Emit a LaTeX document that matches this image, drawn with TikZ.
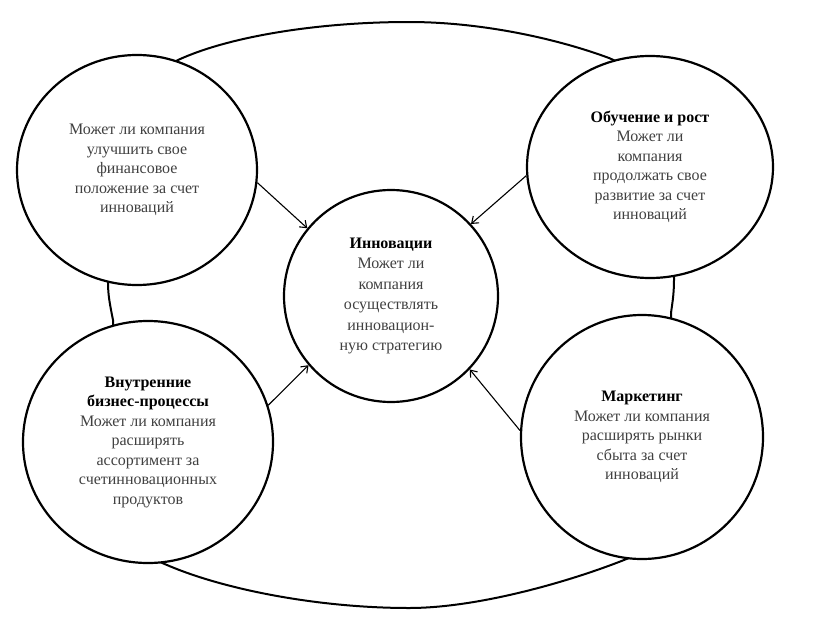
\documentclass[tikz,border=0pt]{standalone}
\usepackage{fontspec}
\setmainfont{Liberation Serif}
\usetikzlibrary{shapes.geometric,arrows.meta}
\begin{document}
\begin{tikzpicture}[x=1pt,y=-1pt,
  bubble/.style={ellipse,draw=black,line width=2.2pt,fill=white,inner sep=0pt,align=center,
    font=\fontsize{16}{19.5}\selectfont,text=black!75},
  link/.style={line width=1.1pt,-{Straight Barb[length=6pt,width=9pt,line width=1.1pt]}},
  loop/.style={line width=2pt}]
\useasboundingbox (0,0) rectangle (819,629);
\coordinate (g1) at (113,320);
\coordinate (g2) at (108,283);
\coordinate (a) at (178,60);
\coordinate (t) at (409,22);
\coordinate (b) at (609,58);
\coordinate (g3) at (674,280);
\coordinate (g4) at (671,313);
\coordinate (c1) at (629,558);
\coordinate (bt) at (409,608);
\coordinate (d) at (167,565);
\draw[loop] (g1) .. controls (110,305) and (108,295) .. (g2)
  .. controls (108,190) and (131,82) .. (a)
  .. controls (230,36) and (320,22) .. (t)
  .. controls (480,22) and (555,38) .. (b)
  .. controls (655,75) and (674,190) .. (g3)
  .. controls (674,295) and (672,305) .. (g4)
  .. controls (671,420) and (671,540) .. (c1)
  .. controls (575,580) and (480,608) .. (bt)
  .. controls (320,608) and (225,590) .. (d)
  .. controls (121,550) and (113,420) .. (g1) -- cycle;
\node[bubble,minimum width=240pt,minimum height=230pt] (tl) at (137,170)
  {Может ли компания\\улучшить свое\\финансовое\\положение за счет\\инноваций};
\node[bubble,minimum width=246pt,minimum height=222pt] (tr) at (650,167)
  {\textbf{\textcolor{black}{Обучение и рост}}\\Может ли\\компания\\продолжать свое\\развитие за счет\\инноваций};
\node[bubble,minimum width=214pt,minimum height=212pt,font=\fontsize{16}{20.5}\selectfont] (c) at (391,296)
  {\textbf{\textcolor{black}{Инновации}}\\Может ли\\компания\\осуществлять\\инновацион-\\ную стратегию};
\node[bubble,minimum width=250pt,minimum height=242pt] (bl) at (148,442)
  {\textbf{\textcolor{black}{Внутренние}}\\\textbf{\textcolor{black}{бизнес-процессы}}\\Может ли компания\\расширять\\ассортимент за\\счетинновационных\\продуктов};
\node[bubble,minimum width=242pt,minimum height=244pt] (br) at (642,437)
  {\textbf{\textcolor{black}{Маркетинг}}\\Может ли компания\\расширять рынки\\сбыта за счет\\инноваций};
\draw[link] (tl.-6) -- (c.141);
\draw[link] (tr.184) -- (c.42);
\draw[link] (bl.17) -- (c.220);
\draw[link] (br.177) -- (c.-43);
\end{tikzpicture}
\end{document}
